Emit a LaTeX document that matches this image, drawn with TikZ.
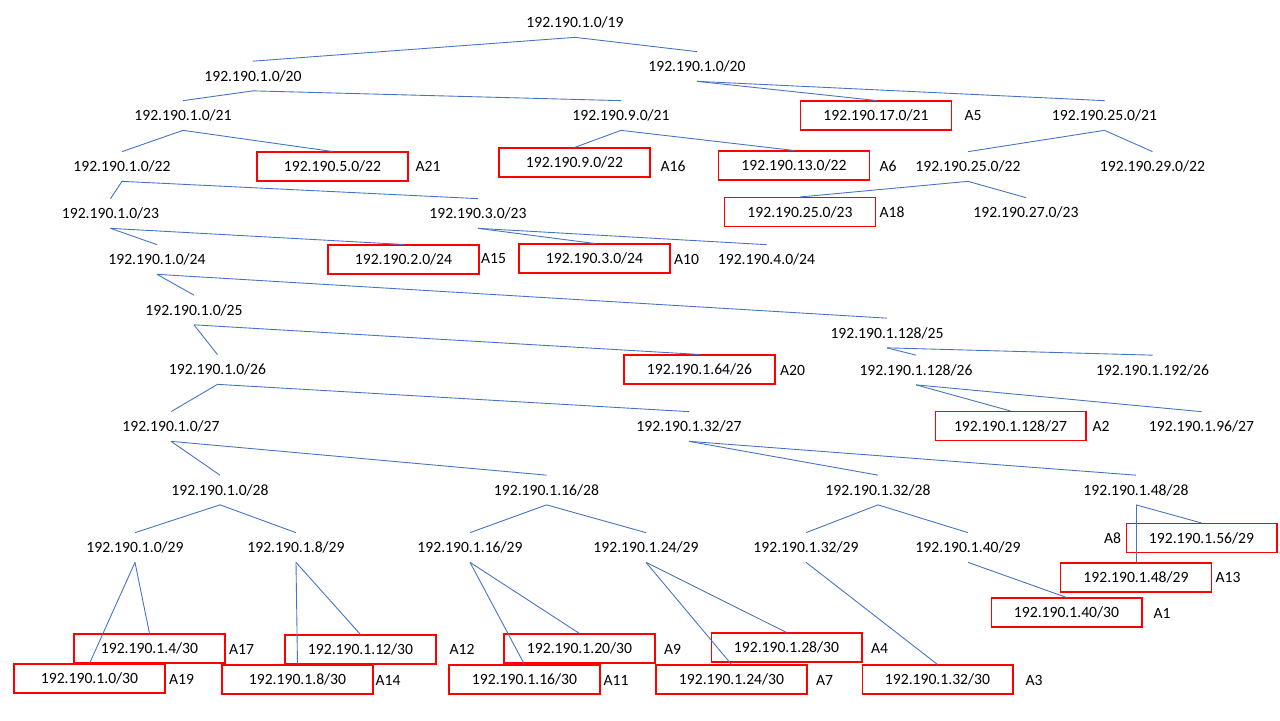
\documentclass[tikz,border=0pt]{standalone}
\usepackage{fontspec}
\setmainfont{Carlito}

\definecolor{linkblue}{RGB}{68,114,196}
\definecolor{allocred}{RGB}{255,0,0}

\tikzset{
  net/.style={minimum width=3.02cm, minimum height=0.58cm, inner sep=0pt,
    font=\fontsize{8.9}{10}\selectfont},
  alloc/.style={net, draw=allocred, line width=0.6pt},
  tag/.style={inner sep=0pt, font=\fontsize{8.9}{10}\selectfont},
  link/.style={draw=linkblue, line width=0.5pt}
}

\begin{document}
\begin{tikzpicture}[x=0.02cm, y=-0.02cm]
  \useasboundingbox (0,0) rectangle (1280,720);

  % /19 and /20
  \node[net] (r19) at (575,22.5) {192.190.1.0/19};
  \node[net] (l20) at (253,76)   {192.190.1.0/20};
  \node[net] (r20) at (697,66.5) {192.190.1.0/20};

  % /21
  \node[net]   (n1x21)  at (183,115.5)    {192.190.1.0/21};
  \node[net]   (n9x21)  at (621,115.5)    {192.190.9.0/21};
  \node[alloc] (n17x21) at (876,115.5)    {192.190.17.0/21};
  \node[net]   (n25x21) at (1104.5,115.5) {192.190.25.0/21};

  % /22
  \node[net]   (n1x22)  at (122,166.5)    {192.190.1.0/22};
  \node[alloc] (n5x22)  at (332.5,166.5)  {192.190.5.0/22};
  \node[alloc] (n9x22)  at (574.5,162.5)  {192.190.9.0/22};
  \node[alloc] (n13x22) at (794,165.5)    {192.190.13.0/22};
  \node[net]   (n25x22) at (968,166.5)    {192.190.25.0/22};
  \node[net]   (n29x22) at (1152.5,166.5) {192.190.29.0/22};

  % /23
  \node[net]   (n1x23)  at (110.5,213.5) {192.190.1.0/23};
  \node[net]   (n3x23)  at (478,213.5)   {192.190.3.0/23};
  \node[alloc] (n25x23) at (800,212)     {192.190.25.0/23};
  \node[net]   (n27x23) at (1026,212.5)  {192.190.27.0/23};

  % /24
  \node[net]   (n1x24) at (157,259.5)   {192.190.1.0/24};
  \node[alloc] (n2x24) at (403.5,259.5) {192.190.2.0/24};
  \node[alloc] (n3x24) at (594.5,258.5) {192.190.3.0/24};
  \node[net]   (n4x24) at (766.5,259.5) {192.190.4.0/24};

  % /25
  \node[net] (n0x25)   at (194,310) {192.190.1.0/25};
  \node[net] (n128x25) at (887,333) {192.190.1.128/25};

  % /26
  \node[net]   (n0x26)   at (217.5,369.5)  {192.190.1.0/26};
  \node[alloc] (n64x26)  at (699.5,369.5)  {192.190.1.64/26};
  \node[net]   (n128x26) at (916,370)      {192.190.1.128/26};
  \node[net]   (n192x26) at (1152.5,370)   {192.190.1.192/26};

  % /27
  \node[net]   (n0x27)   at (171,426.5)    {192.190.1.0/27};
  \node[net]   (n32x27)  at (689,426.5)    {192.190.1.32/27};
  \node[alloc] (n128x27) at (1010.5,426)   {192.190.1.128/27};
  \node[net]   (n96x27)  at (1201.5,426.5) {192.190.1.96/27};

  % /28
  \node[net] (n0x28)  at (220,490)   {192.190.1.0/28};
  \node[net] (n16x28) at (546.5,490) {192.190.1.16/28};
  \node[net] (n32x28) at (878,490)   {192.190.1.32/28};
  \node[net] (n48x28) at (1136,490)  {192.190.1.48/28};

  % /29
  \node[net]   (n0x29)  at (135,547.5)    {192.190.1.0/29};
  \node[net]   (n8x29)  at (296,547.5)    {192.190.1.8/29};
  \node[net]   (n16x29) at (470,547.5)    {192.190.1.16/29};
  \node[net]   (n24x29) at (646,547.5)    {192.190.1.24/29};
  \node[net]   (n32x29) at (806,547.5)    {192.190.1.32/29};
  \node[net]   (n40x29) at (968,547.5)    {192.190.1.40/29};
  \node[alloc] (n56x29) at (1201.5,538)   {192.190.1.56/29};
  \node[alloc] (n48x29) at (1136,577.5)   {192.190.1.48/29};

  % /30
  \node[alloc] (n40x30) at (1066.5,612.5) {192.190.1.40/30};
  \node[alloc] (n4x30)  at (149.5,648.5)  {192.190.1.4/30};
  \node[alloc] (n0x30)  at (89.5,678.5)   {192.190.1.0/30};
  \node[alloc] (n12x30) at (360.5,649.5)  {192.190.1.12/30};
  \node[alloc] (n8x30)  at (297.5,679.5)  {192.190.1.8/30};
  \node[alloc] (n20x30) at (579.5,648.5)  {192.190.1.20/30};
  \node[alloc] (n16x30) at (524.5,679.5)  {192.190.1.16/30};
  \node[alloc] (n28x30) at (786.5,647.5)  {192.190.1.28/30};
  \node[alloc] (n24x30) at (731.5,679.5)  {192.190.1.24/30};
  \node[alloc] (n32x30) at (937.5,679.5)  {192.190.1.32/30};

  % allocation tags
  \node[tag] (tA5)  at (973,116)    {A5};
  \node[tag] (tA21) at (428,166)    {A21};
  \node[tag] (tA16) at (673,166)    {A16};
  \node[tag] (tA6)  at (888,166)    {A6};
  \node[tag] (tA18) at (892,212)    {A18};
  \node[tag] (tA15) at (493.5,259)  {A15};
  \node[tag] (tA10) at (686.5,259)  {A10};
  \node[tag] (tA20) at (792.5,370)  {A20};
  \node[tag] (tA2)  at (1101,426)   {A2};
  \node[tag] (tA8)  at (1112.5,538) {A8};
  \node[tag] (tA13) at (1228,577)   {A13};
  \node[tag] (tA1)  at (1162,613)   {A1};
  \node[tag] (tA17) at (241.5,649)  {A17};
  \node[tag] (tA19) at (181.5,679)  {A19};
  \node[tag] (tA12) at (462,649)    {A12};
  \node[tag] (tA14) at (388,680)    {A14};
  \node[tag] (tA9)  at (672.5,649)  {A9};
  \node[tag] (tA11) at (616,680)    {A11};
  \node[tag] (tA4)  at (879.5,648)  {A4};
  \node[tag] (tA7)  at (824.5,680)  {A7};
  \node[tag] (tA3)  at (1034,680)   {A3};

  % split lines
  \foreach \a/\b in {r19/l20, r19/r20,
      l20/n1x21, l20/n9x21, r20/n17x21, r20/n25x21,
      n1x21/n1x22, n1x21/n5x22, n9x21/n9x22, n9x21/n13x22,
      n25x21/n25x22, n25x21/n29x22,
      n1x22/n1x23, n1x22/n3x23, n25x22/n25x23, n25x22/n27x23,
      n1x23/n1x24, n1x23/n2x24, n3x23/n3x24, n3x23/n4x24,
      n1x24/n0x25, n1x24/n128x25,
      n0x25/n0x26, n0x25/n64x26, n128x25/n128x26, n128x25/n192x26,
      n0x26/n0x27, n0x26/n32x27, n128x26/n128x27, n128x26/n96x27,
      n0x27/n0x28, n0x27/n16x28, n32x27/n32x28, n32x27/n48x28,
      n0x28/n0x29, n0x28/n8x29, n16x28/n16x29, n16x28/n24x29,
      n32x28/n32x29, n32x28/n40x29, n48x28/n48x29, n48x28/n56x29,
      n0x29/n0x30, n0x29/n4x30, n8x29/n8x30, n8x29/n12x30,
      n16x29/n16x30, n16x29/n20x30, n24x29/n24x30, n24x29/n28x30,
      n32x29/n32x30, n40x29/n40x30}
    \draw[link] (\a.south) -- (\b.north);

\end{tikzpicture}
\end{document}
